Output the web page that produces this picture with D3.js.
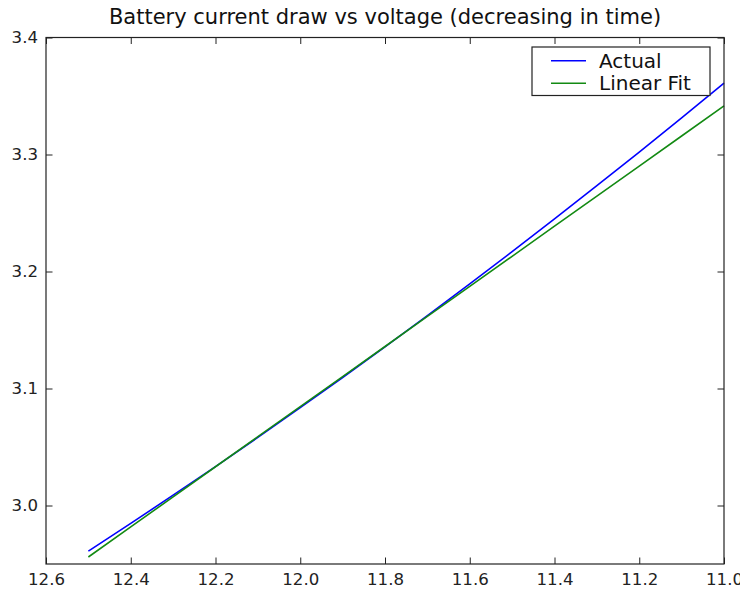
<!DOCTYPE html>
<html lang="en">
<head>
    <meta charset="UTF-8">
    <title>Battery current draw vs voltage</title>
    <script src="https://d3js.org/d3.v7.min.js"></script>
    <style>
        body { margin: 0; background: white; }
        svg { display: block; font-family: "DejaVu Sans", sans-serif; }
    </style>
</head>
<body>
    <div id="chart"></div>
    <script>
        // Voltage samples (V), decreasing in time
        const voltage = [12.5, 12.4, 12.3, 12.2, 12.1, 12.0, 11.9, 11.8, 11.7, 11.6, 11.5, 11.4, 11.3, 11.2, 11.1, 11.0];
        // Measured current draw
        const actual = [2.961, 2.9847, 3.0088, 3.0333, 3.0582, 3.0836, 3.1094, 3.1356, 3.1623, 3.1894, 3.2169, 3.2449, 3.2733, 3.3021, 3.3313, 3.361];
        // Linear fit of the same
        const fit = [2.956, 2.9817, 3.0074, 3.0331, 3.0588, 3.0845, 3.1102, 3.1359, 3.1616, 3.1873, 3.213, 3.2387, 3.2644, 3.2901, 3.3158, 3.3415];

        const xTicks = [12.6, 12.4, 12.2, 12.0, 11.8, 11.6, 11.4, 11.2, 11.0];
        const yTicks = [3.0, 3.1, 3.2, 3.3, 3.4];

        const W = 740, H = 589;
        const margin = { top: 37.5, right: 16, bottom: 25, left: 46 };
        const width = W - margin.left - margin.right,
              height = H - margin.top - margin.bottom;

        const svg = d3.select("#chart").append("svg")
            .attr("width", W)
            .attr("height", H);

        const g = svg.append("g")
            .attr("transform", `translate(${margin.left},${margin.top})`);

        // x runs backwards, like the voltage
        const x = d3.scaleLinear().domain([12.6, 11.0]).range([0, width]);
        const y = d3.scaleLinear().domain([2.95, 3.4]).range([height, 0]);

        const tick = 6.5;
        const fmt = d3.format(".1f");

        // ticks on all four sides, pointing inwards
        const axes = [
            d3.axisBottom(x).tickValues(xTicks).tickFormat(fmt).tickSizeInner(-tick).tickSizeOuter(0).tickPadding(9),
            d3.axisTop(x).tickValues(xTicks).tickFormat("").tickSizeInner(-tick).tickSizeOuter(0),
            d3.axisLeft(y).tickValues(yTicks).tickFormat(fmt).tickSizeInner(-tick).tickSizeOuter(0).tickPadding(8),
            d3.axisRight(y).tickValues(yTicks).tickFormat("").tickSizeInner(-tick).tickSizeOuter(0)
        ];
        const shifts = [`translate(0,${height})`, "translate(0,0)", "translate(0,0)", `translate(${width},0)`];
        axes.forEach((a, i) => {
            const ax = g.append("g").attr("transform", shifts[i]).call(a);
            ax.select(".domain").remove();
            ax.selectAll("line").attr("stroke", "#222");
            ax.selectAll("text").attr("font-size", 16.6).attr("fill", "#222")
                .attr("font-family", "DejaVu Sans, sans-serif");
        });

        const line = vals => d3.line()
            .x((d, i) => x(voltage[i]))
            .y(d => y(d))(vals);

        g.append("path").attr("d", line(actual))
            .attr("fill", "none").attr("stroke", "#0000ff").attr("stroke-width", 1.6);
        g.append("path").attr("d", line(fit))
            .attr("fill", "none").attr("stroke", "#138a13").attr("stroke-width", 1.6);

        // frame
        g.append("rect").attr("width", width).attr("height", height)
            .attr("fill", "none").attr("stroke", "#222").attr("stroke-width", 1.2);

        // title
        svg.append("text")
            .attr("x", margin.left + width / 2)
            .attr("y", 24)
            .attr("text-anchor", "middle")
            .attr("font-size", 21)
            .attr("fill", "#111")
            .text("Battery current draw vs voltage (decreasing in time)");

        // legend
        const legend = svg.append("g").attr("transform", "translate(532,47)");
        legend.append("rect").attr("width", 178).attr("height", 48.5)
            .attr("fill", "white").attr("stroke", "#222").attr("stroke-width", 1.2);
        const items = [["Actual", "#0000ff"], ["Linear Fit", "#138a13"]];
        items.forEach(([label, color], i) => {
            const yy = 13.7 + i * 22.6;
            legend.append("line").attr("x1", 19).attr("x2", 54).attr("y1", yy).attr("y2", yy)
                .attr("stroke", color).attr("stroke-width", 1.6);
            legend.append("text").attr("x", 67).attr("y", yy + 7)
                .attr("font-size", 20).attr("fill", "#111").text(label);
        });
    </script>
</body>
</html>
